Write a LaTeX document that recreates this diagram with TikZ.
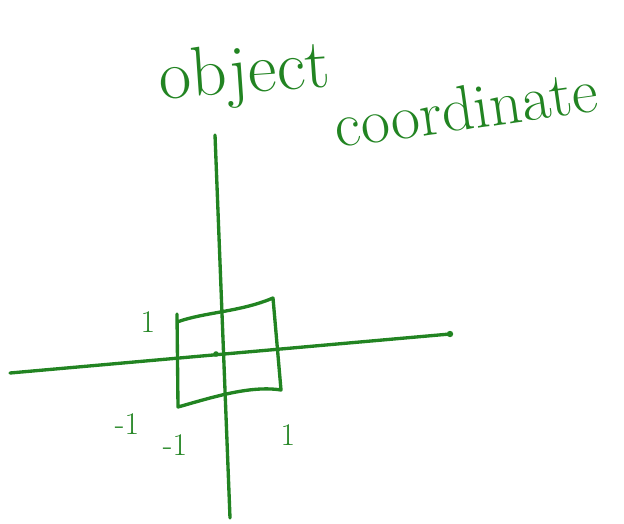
\documentclass[tikz,border=0pt]{standalone}
\definecolor{pen}{RGB}{34,132,34}
\begin{document}
\begin{tikzpicture}[x=0.02cm,y=-0.02cm,
  stroke/.style={draw=pen,line width=1.9pt,line cap=round,line join=round},
  lbl/.style={text=pen,font=\fontsize{18}{19}\selectfont,inner sep=0pt}]
\useasboundingbox (0,0) rectangle (624,523);
% axes
\coordinate (vtop) at (215,135);
\coordinate (vbot) at (230,518);
\coordinate (hl) at (10,373);
\coordinate (hr) at (450,334);
\draw[stroke] (vtop) -- (vbot);
\draw[stroke] (hl) -- (hr);
\fill[pen] (hr) circle (3.2);
\fill[pen] (216,354) circle (2.8);
% square
\coordinate (tl) at (177,322);
\coordinate (tr) at (273,298);
\coordinate (br) at (281,390);
\coordinate (bl) at (178,407);
\draw[stroke] (177,314) -- (bl) .. controls (210,398) and (250,385) .. (br)
  -- (tr) .. controls (240,312) and (205,312) .. (tl);
% labels
\node[lbl] (ly) at (148,322) {1};
\node[lbl] (lx1) at (127,424) {-1};
\node[lbl] (ly1) at (175,445) {-1};
\node[lbl] (lx) at (288,435) {1};
% title
\node[text=pen,font=\fontsize{40}{42}\selectfont,rotate=4,inner sep=0pt] (t1) at (245,76) {object};
\node[text=pen,font=\fontsize{36}{38}\selectfont,rotate=8,inner sep=0pt] (t2) at (466,108) {coordinate};
\end{tikzpicture}
\end{document}
